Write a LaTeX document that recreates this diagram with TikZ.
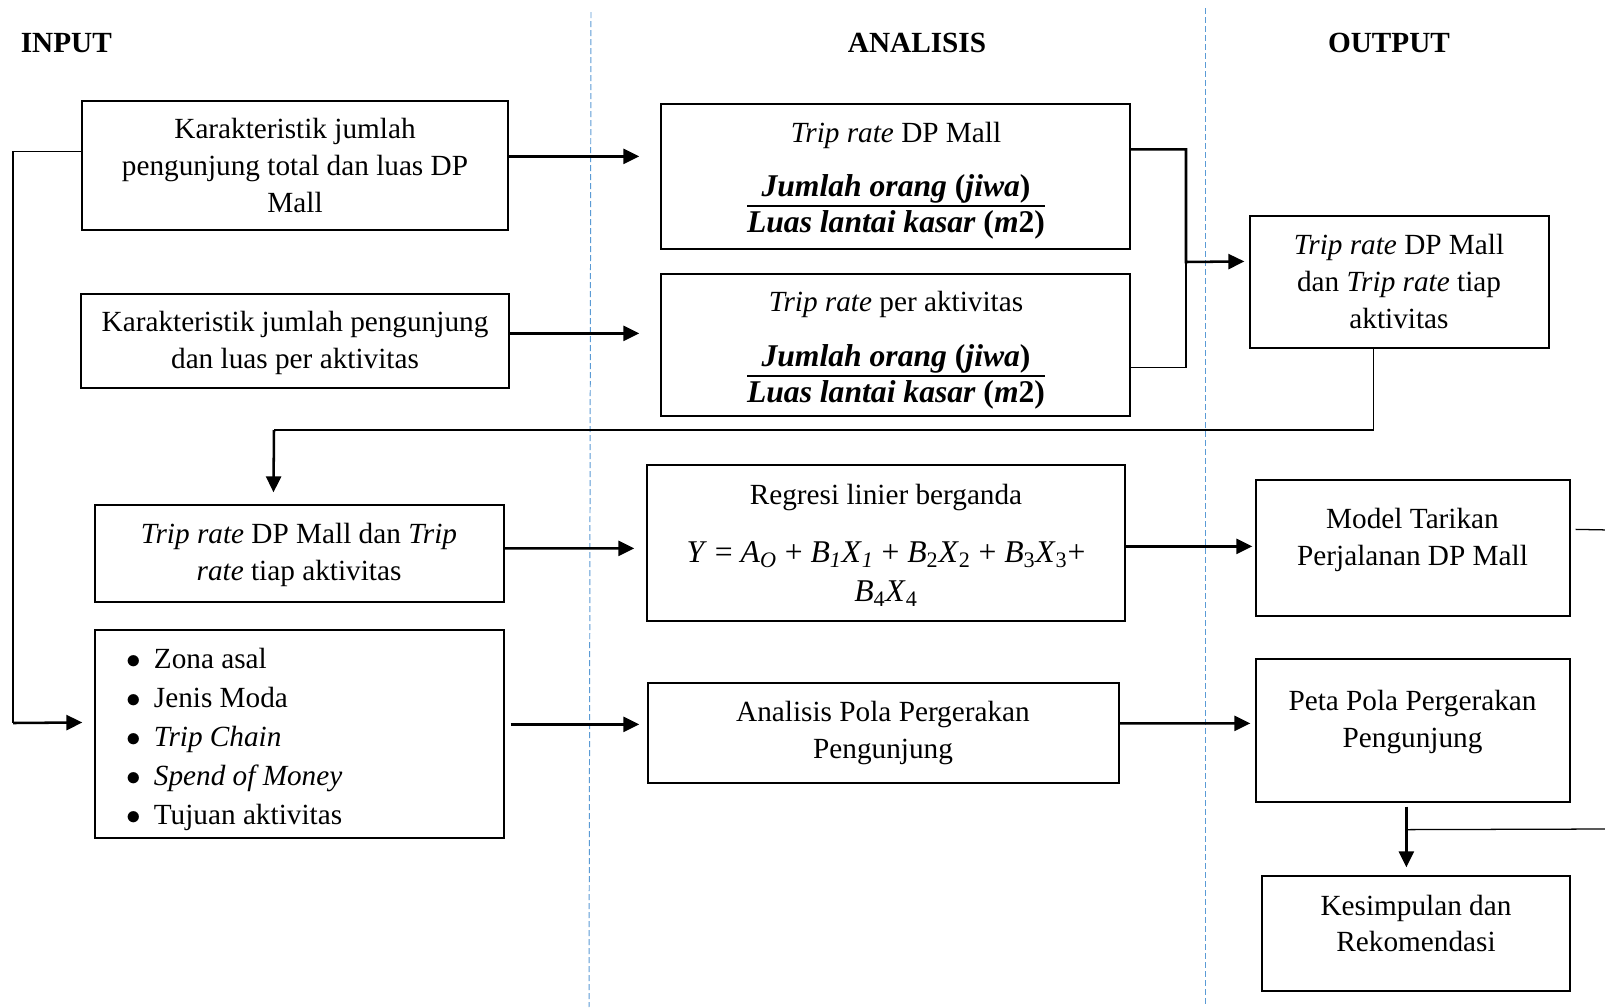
\documentclass[tikz,border=0pt]{standalone}
\usepackage{fontspec}
\setmainfont{Liberation Serif}
\usetikzlibrary{arrows.meta,fit,calc}
\newcommand\bodyfs{\fontsize{20.8}{26.2}\selectfont}
\newcommand\listfs{\fontsize{20.8}{27.6}\selectfont}
\newcommand\fracfs{\fontsize{22.5}{28}\selectfont}
\newcommand\formfs{\fontsize{22.5}{27.7}\selectfont}
\newcommand\tripfrac{\fracfs${\hbox{\bfseries\itshape Jumlah orang \upshape(\itshape jiwa\upshape)}\above 1.4pt\hbox{\vrule height 0.76em width 0pt\bfseries\itshape Luas lantai kasar \upshape(\itshape m\upshape 2)}}$}
\newcommand\bul{\makebox[0.69cm][l]{$\bullet$}}
\definecolor{dashblue}{RGB}{91,155,213}
\begin{document}
\begin{tikzpicture}[x=0.025cm,y=-0.025cm,
  box/.style={draw=black, line width=0.9pt, inner sep=0pt},
  txt/.style={inner sep=0pt, align=center, font=\bodyfs},
  hdr/.style={inner sep=0pt, font=\bodyfs\bfseries},
  arr/.style={line width=1.8pt, -{Triangle[length=0.4cm,width=0.375cm]}},
  thinline/.style={line width=0.9pt},
  sepline/.style={dashblue, line width=0.7pt, dash pattern=on 0.15cm off 0.075cm}]
\useasboundingbox (0,0) rectangle (1605,1007);
\fill[white] (0,0) rectangle (1605,1007);

% column separators
\draw[sepline] (591,12) -- (589,1007);
\draw[sepline] (1205,8) -- (1205,1007);

% headers
\node[hdr, anchor=west] (hin) at (20.5,43) {INPUT};
\node[hdr] (han) at (917,43) {ANALISIS};
\node[hdr] (hout) at (1389,43) {OUTPUT};

% boxes
\node[box, fit={(82,101)(508,230)}] (A) {};
\node[box, fit={(81,294)(509,388)}] (B) {};
\node[box, fit={(661,104)(1130,249)}] (C) {};
\node[box, fit={(661,274)(1130,416)}] (D) {};
\node[box, fit={(1250,216)(1549,348)}] (E) {};
\node[box, fit={(95,505)(504,602)}] (F) {};
\node[box, fit={(95,630)(504,838)}] (G) {};
\node[box, fit={(647,465)(1125,621)}] (H) {};
\node[box, fit={(648,683)(1119,783)}] (I) {};
\node[box, fit={(1256,480)(1570,616)}] (J) {};
\node[box, fit={(1256,659)(1570,802)}] (K) {};
\node[box, fit={(1262,876)(1570,991)}] (L) {};

% texts
\node[txt] (At) at (295,165.5) {Karakteristik jumlah\\pengunjung total dan luas DP\\Mall};
\node[txt] (Bt) at (295,343) {Karakteristik jumlah pengunjung\\dan luas per aktivitas};
\node[txt] (Ct) at (896,135) {\textit{Trip rate} DP Mall};
\node[txt, anchor=base] (Cf) at (896,213) {\tripfrac};
\node[txt] (Dt) at (896,304) {\textit{Trip rate} per aktivitas};
\node[txt, anchor=base] (Df) at (896,383) {\tripfrac};
\node[txt] (Et) at (1399,281.5) {\textit{Trip rate} DP Mall\\dan \textit{Trip rate} tiap\\aktivitas};
\node[txt] (Ft) at (299,555) {\textit{Trip rate} DP Mall dan \textit{Trip}\\\textit{rate} tiap aktivitas};
\node[txt, align=left, anchor=west, font=\listfs] (Gt) at (126,739.5) {%
  \bul Zona asal\\
  \bul Jenis Moda\\
  \bul\textit{Trip Chain}\\
  \bul\textit{Spend of Money}\\
  \bul Tujuan aktivitas};
\node[txt] (Ht) at (886,497) {Regresi linier berganda};
\node[txt, font=\formfs] (Hf) at (886,574) {\textit{Y} = \textit{A}\textsubscript{\textit{O}} + \textit{B}\textsubscript{\textit{1}}\textit{X}\textsubscript{\textit{1}} + \textit{B}\textsubscript{2}\textit{X}\textsubscript{2} + \textit{B}\textsubscript{3}\textit{X}\textsubscript{3}+\\\textit{B}\textsubscript{4}\textit{X}\textsubscript{4}};
\node[txt] (It) at (883,733) {Analisis Pola Pergerakan\\Pengunjung};
\node[txt] (Jt) at (1412.5,540) {Model Tarikan\\Perjalanan DP Mall};
\node[txt] (Kt) at (1412.5,722) {Peta Pola Pergerakan\\Pengunjung};
\node[txt] (Lt) at (1416,923.5) {Kesimpulan dan\\Rekomendasi};

% helper coordinates
\coordinate (jn) at (1186,262);
\coordinate (ef) at (274,430);
\coordinate (fb) at (13,723);
\coordinate (jr) at (1610,530);
\coordinate (kr) at (1610,829);

% connectors
\draw[arr, shorten >=0.525cm] ($(A.north east)+(0,56)$) -- ($(C.north west)+(0,53)$);
\draw[arr, shorten >=0.525cm] ($(B.north east)+(0,40)$) -- ($(D.north west)+(0,60)$);
\draw[arr, shorten >=0.125cm] ($(C.north east)+(0,46)$) -| (jn) -- ($(E.north west)+(0,46)$);
\draw[thinline] ($(D.north east)+(0,94)$) -| (jn);
\draw[thinline] ($(E.south west)+(124,0)$) |- (ef);
\draw[arr, shorten >=0.3cm] (ef) -- ($(F.north west)+(179,0)$);
\draw[arr, shorten >=0.3cm] ($(F.north east)+(0,44)$) -- ($(H.north west)+(0,84)$);
\draw[arr, shorten <=0.15cm, shorten >=0.2cm] ($(G.north east)+(0,95)$) -- ($(I.north west)+(0,42)$);
\draw[arr, shorten >=0.075cm] ($(H.north east)+(0,82)$) -- ($(J.north west)+(0,67)$);
\draw[arr, shorten >=0.125cm] ($(I.north east)+(0,41)$) -- ($(K.north west)+(0,65)$);
\draw[arr, shorten <=0.1cm, shorten >=0.2cm] ($(K.south west)+(151,0)$) -- ($(L.north west)+(145,0)$);
\draw[thinline] ($(K.south west)+(151,27)$) -- (kr);
\draw[thinline] ($(J.north east)+(5,50)$) -- (jr);
\draw[thinline] ($(A.north west)+(0,51)$) -| (fb);
\draw[arr, shorten >=0.3cm] (fb) -- ($(G.north west)+(0,93)$);
\end{tikzpicture}
\end{document}
